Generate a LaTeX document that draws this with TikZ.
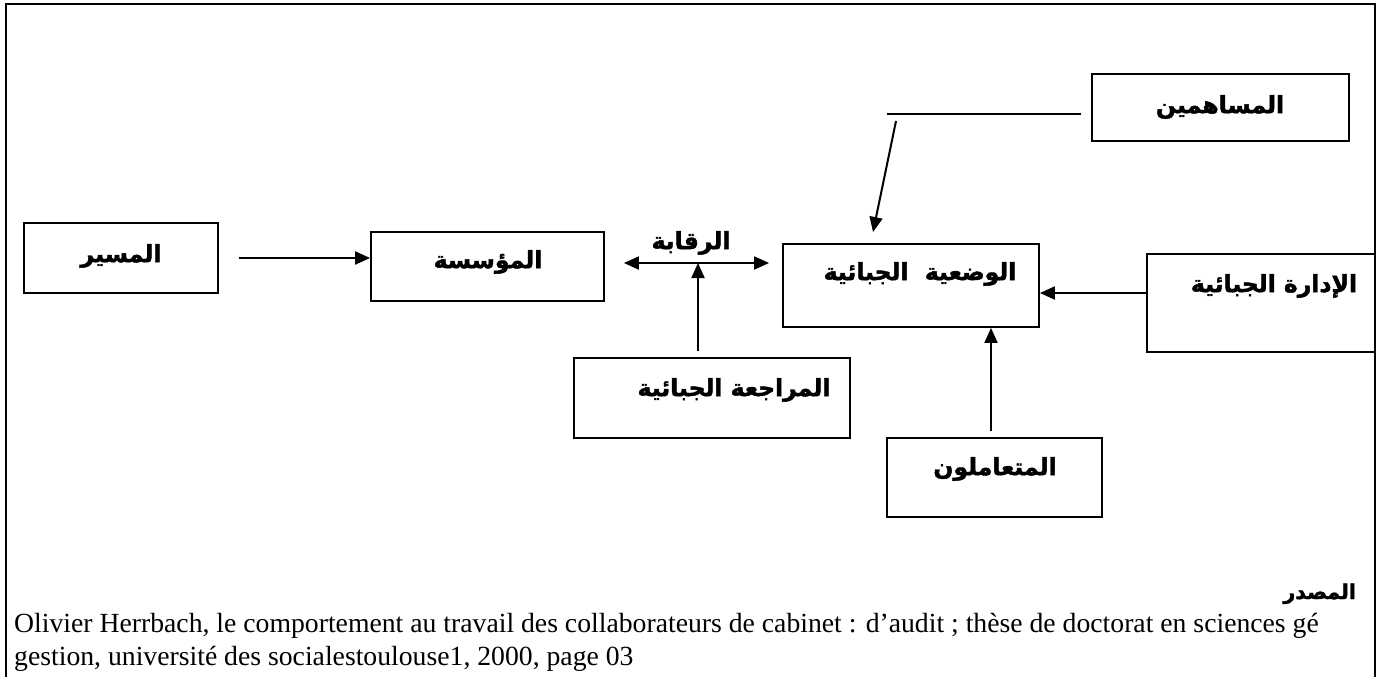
\documentclass[tikz,border=0pt]{standalone}
\usepackage{fontspec}
\setmainfont{Liberation Serif}
\newfontfamily\arabicfont[Script=Arabic, BoldFeatures={FakeBold=1.8}]{DejaVu Sans}
\TeXXeTstate=1
\usetikzlibrary{arrows.meta,calc}
\begin{document}
\begin{tikzpicture}[x=1pt,y=-1pt,
  box/.style={draw, line width=1.8pt, inner sep=0pt},
  ar/.style={font=\arabicfont\bfseries\fontsize{23.5}{28}\selectfont, inner sep=0pt},
  arr/.style={line width=2pt, -{Triangle[length=15pt,width=13pt]}},
  darr/.style={line width=2pt, {Triangle[length=15pt,width=13pt]}-{Triangle[length=15pt,width=13pt]}},
  plain/.style={line width=2pt},
  frame/.style={line width=2pt},
  cite/.style={font=\fontsize{27.7}{33}\selectfont, inner sep=0pt, anchor=base west}]
\useasboundingbox (0,0) rectangle (1380,677);
\draw[frame] (6,677) -- (6,4) -- (1375,4) -- (1375,677);
% boxes
\node[box, minimum width=194pt, minimum height=70pt] (masir) at (121,258) {};
\node[box, minimum width=233pt, minimum height=69pt] (muassasa) at (487.5,266.5) {};
\node[box, minimum width=256pt, minimum height=83pt] (wadiya) at (911,285.5) {};
\node[box, minimum width=257pt, minimum height=67pt] (musahimin) at (1220.5,107.5) {};
\node[box, minimum width=228pt, minimum height=98pt] (idara) at (1261,303) {};
\node[box, minimum width=276pt, minimum height=80pt] (murajaa) at (712,398) {};
\node[box, minimum width=215pt, minimum height=79pt] (mutaamilun) at (994.5,477.5) {};
% texts
\node[ar] (tmasir) at (121,256) {\beginR المسير\endR};
\node[ar] (tmuassasa) at (488,262) {\beginR المؤسسة\endR};
\node[ar] (tfriqaba) at (691,243) {\beginR الرقابة\endR};
\node[ar] (twadiya) at (920,274) {\beginR الوضعية\ \ الجبائية\endR};
\node[ar] (tmusahimin) at (1220,107) {\beginR المساهمين\endR};
\node[ar] (tidara) at (1274,286) {\beginR الإدارة الجبائية\endR};
\node[ar] (tmurajaa) at (734,390) {\beginR المراجعة الجبائية\endR};
\node[ar] (tmutaamilun) at (995,469) {\beginR المتعاملون\endR};
% connectors
\draw[arr] ($(masir.east)+(20,0)$) -- (masir.east -| muassasa.west);
\coordinate (rq) at (698,263);
\draw[darr] ($(muassasa.east |- rq)+(19,0)$) -- ($(wadiya.west |- rq)+(-13,0)$);
\draw[arr] ($(rq |- murajaa.north)+(0,-6)$) -- (rq);
\coordinate (m1) at (1081,114);
\coordinate (m2) at (887,114);
\draw[plain] (m1) -- (m2);
\coordinate (m3) at (896,121);
\coordinate (m4) at (873,232);
\draw[arr] (m3) -- (m4);
\coordinate (ia) at (1147,293);
\draw[arr] (ia) -- (ia -| wadiya.east);
\coordinate (mt) at (991,431);
\draw[arr] (mt) -- (mt |- wadiya.south);
% source
\node[font=\arabicfont\bfseries\fontsize{20.5}{24}\selectfont, inner sep=0pt, anchor=base east] (masdar) at (1356,599) {\beginR المصدر\endR};
\node[cite] (cite1) at (14,632) {Olivier Herrbach, le comportement au travail des collaborateurs de cabinet : d’audit ; thèse de doctorat en sciences gé};
\node[cite] (cite2) at (14,665) {gestion, université des socialestoulouse1, 2000, page 03};
\end{tikzpicture}
\end{document}
